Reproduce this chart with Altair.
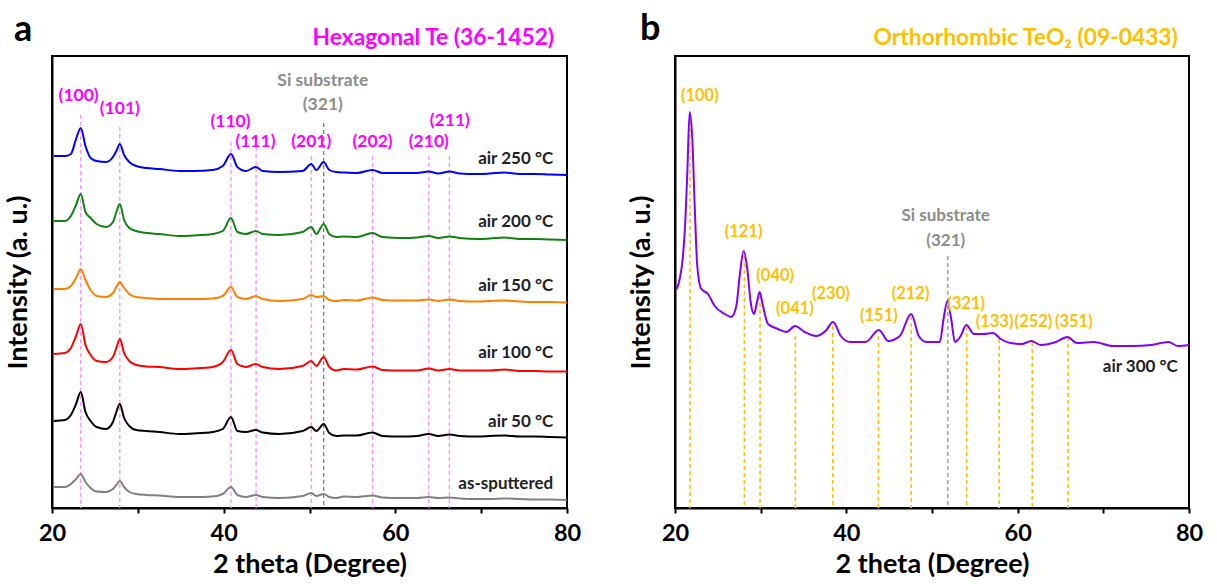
import altair as alt
import pandas as pd

FONT = "Lato"

# ---------------- Panel a : hexagonal Te, stacked patterns ----------------
two_theta_a = [20.2, 21.5, 22.2, 22.8, 23.35, 23.9, 24.5, 25.2, 26.3, 27.1, 27.5, 27.9,
               28.4, 29.0, 29.8, 31.0, 32.5, 34.8, 36.5, 38.7, 39.9, 40.85, 41.6, 42.6,
               43.75, 44.55, 46.5, 49.2, 50.2, 50.8, 51.65, 52.3, 53.1, 54.0, 55.5, 57.35,
               58.5, 60.7, 62.5, 63.9, 65.0, 66.3, 67.5, 69.6, 71.0, 72.7, 74.5, 76.3, 78.0, 80.0]

int_air250 = [352, 352, 354, 369, 380, 362, 350, 347, 346, 351, 357, 364,
              353, 346, 342, 340, 339, 337, 337, 338, 342, 354, 341, 337,
              341, 337, 336, 337, 344, 338, 346, 338, 336, 335.5, 335, 338,
              335, 335, 335, 336.5, 334.5, 336.5, 334.5, 334, 334.5, 335.5, 334, 334, 333.5, 333]
int_air200 = [287, 287, 292, 303, 314, 296, 290, 284, 281, 286, 296, 304,
              288, 280, 277, 275, 274, 272, 272.5, 274, 277, 290, 276, 274,
              277, 274, 273, 276, 281, 274, 284, 274, 271, 271.5, 271, 275,
              271, 270, 270.5, 272, 270, 271.5, 270, 269, 269.5, 270.5, 269, 269, 268.5, 268]
int_air150 = [219, 219, 222, 230, 239, 228, 218, 212, 211, 215, 221, 226,
              220, 214, 211, 210, 209, 209, 209, 209.5, 212, 221, 211, 209,
              212, 209, 207, 209, 213, 211, 212, 208, 207, 208, 207.5, 210.5,
              208, 207.5, 207.5, 208.5, 207, 208.5, 207, 206.5, 207, 207.5, 206.5, 206, 206, 205.5]
int_air100 = [154, 155, 160, 172, 184, 163, 153, 147, 146, 151, 160, 169,
              155, 147, 143, 141.5, 141, 139, 139.5, 141, 146, 158, 144, 141,
              144, 141, 139, 142, 147, 142, 151, 141, 137.5, 139, 138.5, 141.5,
              138, 137.5, 137.5, 139.5, 137.5, 139, 137.5, 137.5, 137.5, 138.5, 137, 137, 136.5, 136.5]
int_air50 = [87, 88, 93, 104, 116, 96, 87, 81, 79, 86, 96, 104,
             90, 82, 78, 77, 76, 74, 74.5, 76, 79, 91, 77, 76,
             78, 75.5, 74, 77, 81, 77, 84, 75, 72, 72.5, 72.5, 75.5,
             72, 71.5, 72, 74, 72, 73.5, 72, 71.5, 72, 72.5, 71.5, 71.5, 71, 70.5]
int_assput = [21, 21, 24, 29, 34, 26, 20, 16.5, 16, 19, 23, 27,
              21, 16, 14, 13, 12.5, 11, 11, 11.5, 14, 21, 13, 11,
              13, 11, 10, 12, 15, 12, 14, 11, 10, 11.5, 11, 12.5,
              10.5, 10, 10, 11, 10, 10.5, 9.5, 9, 9, 9.5, 9, 8.5, 8.5, 8]

series_a = ["as-sputtered", "air 50 °C", "air 100 °C", "air 150 °C", "air 200 °C", "air 250 °C"]
values_a = [int_assput, int_air50, int_air100, int_air150, int_air200, int_air250]
colors_a = ["#808080", "#000000", "#FF0000", "#FF8000", "#118211", "#0000FF"]
series_label_x = [78.4] * 6
series_label_y = [24, 86, 155, 222, 286, 349]

te_hkl = ["(100)", "(101)", "(110)", "(111)", "(201)", "(202)", "(210)", "(211)"]
te_pos = [23.35, 27.9, 40.85, 43.78, 50.2, 57.35, 63.9, 66.3]
te_line_top = [393, 381, 366, 361, 352, 352, 352, 352]
te_label_x = [23.1, 27.9, 40.8, 43.7, 50.2, 57.35, 63.9, 66.35]
te_label_y = [412, 399, 386, 366, 366, 366, 366, 387]

si_pos_a = 51.65
si_top_a = 385
si_label_x_a = 51.55
si_label_y_a = [427, 403]

# ---------------- Panel b : orthorhombic TeO2 ----------------
two_theta_b = [20.2, 20.55, 20.93, 21.2, 21.44, 21.71, 22.02, 22.3, 22.6, 23.07, 23.85, 24.63,
               25.8, 26.57, 27.16, 27.55, 28.02, 28.44, 28.83, 29.22, 29.57, 29.88, 30.27, 30.86,
               32.0, 33.0, 34.02, 35.13, 36.46, 37.57, 38.46, 39.35, 40.46, 42.24, 43.8, 44.9,
               46.24, 47.57, 48.46, 49.35, 50.91, 51.35, 51.8, 52.24, 52.68, 53.35, 54.0, 54.9,
               56.02, 57.13, 58.02, 59.13, 60.47, 61.58, 62.69, 64.47, 65.8, 66.91, 68.9, 71.1,
               73.4, 75.6, 77.6, 78.7, 80.0]
int_air300 = [219, 229, 252, 286, 336, 396, 369, 302, 242, 219, 214, 202,
              194, 191, 202, 232, 257, 239, 206, 194, 206, 216, 202, 184,
              179, 176, 182, 176, 172, 177, 186, 172, 166, 166, 178, 167,
              172, 194, 172, 166, 166, 189, 207, 189, 166, 172, 183, 174,
              174, 175, 169, 165, 164, 167, 163, 166, 171, 165, 166, 162,
              162, 163, 166, 162, 163]

teo2_hkl = ["(100)", "(121)", "(040)", "(041)", "(230)", "(151)", "(212)", "(321)", "(133)", "(252)", "(351)"]
teo2_pos = [21.75, 28.1, 29.93, 34.05, 38.42, 43.75, 47.57, 54.05, 57.84, 61.7, 65.88]
teo2_line_top = [394, 252, 212, 172, 182, 172, 192, 182, 169, 166, 171]
teo2_label_x = [22.9, 28.0, 31.7, 34.0, 38.2, 43.8, 47.5, 54.0, 57.3, 61.85, 66.55]
teo2_label_y = [412, 276, 232, 199, 214, 192, 214, 204, 186, 186, 186]

si_pos_b = 51.84
si_top_b = 252
si_label_x_b = 51.6
si_label_y_b = [292, 267]

# ---------------- helpers ----------------
x_axis = alt.Axis(values=[20, 30, 40, 50, 60, 70, 80],
                  labelExpr="datum.value % 20 == 0 ? datum.label : ''",
                  labelFlush=False, labelOverlap=False, grid=False,
                  tickSize=5, tickWidth=2, tickColor="black",
                  domainColor="black", domainWidth=2,
                  labelFont=FONT, labelFontSize=23.5, labelFontWeight="bold", labelColor="black",
                  labelPadding=8,
                  title="2 theta (Degree)", titleFont=FONT, titleFontSize=27,
                  titleFontWeight="bold", titleColor="black", titlePadding=7)
y_axis = alt.Axis(labels=False, ticks=False, grid=False, domainColor="black", domainWidth=2,
                  title="Intensity (a. u.)", titleFont=FONT, titleFontSize=27,
                  titleFontWeight="bold", titleColor="black", titlePadding=20)
xs = alt.Scale(domain=[20, 80], nice=False, zero=False)
ys = alt.Scale(domain=[0, 452], nice=False, zero=False)
X = alt.X("x:Q", scale=xs, axis=x_axis)
Y = alt.Y("y:Q", scale=ys, axis=y_axis)
frame = alt.ViewBackground(stroke="black", strokeWidth=2)


def text_layer(df, color, size, align="center"):
    return alt.Chart(df).mark_text(font=FONT, fontSize=size, fontWeight="bold", color=color,
                                   align=align, baseline="middle").encode(
        x=alt.X("x:Q", scale=xs), y=alt.Y("y:Q", scale=ys), text="t:N")


def rule_layer(df, color, width):
    return alt.Chart(df).mark_rule(color=color, strokeWidth=width, strokeDash=[4, 3]).encode(
        x=alt.X("x:Q", scale=xs), y=alt.Y("y:Q", scale=ys), y2="y0:Q")


# ---------------- panel a ----------------
rows = []
for name, vals in zip(series_a, values_a):
    for xv, yv in zip(two_theta_a, vals):
        rows.append({"x": xv, "y": yv, "s": name})
df_a = pd.DataFrame(rows)

lines_a = alt.Chart(df_a).mark_line(strokeWidth=2, interpolate="monotone").encode(
    x=X, y=Y,
    color=alt.Color("s:N", scale=alt.Scale(domain=series_a, range=colors_a), legend=None),
    detail="s:N")

rules_a = rule_layer(pd.DataFrame({"x": te_pos, "y": te_line_top, "y0": [0] * len(te_pos)}), "#FF88FF", 1.3)
rule_si_a = rule_layer(pd.DataFrame({"x": [si_pos_a], "y": [si_top_a], "y0": [0]}), "#808080", 1.3)
hkl_a = text_layer(pd.DataFrame({"x": te_label_x, "y": te_label_y, "t": te_hkl}), "#FF00FF", 17.5)
si_txt_a = text_layer(pd.DataFrame({"x": [si_label_x_a] * 2, "y": si_label_y_a,
                                    "t": ["Si substrate", "(321)"]}), "#8C8C8C", 17.5)
names_a = text_layer(pd.DataFrame({"x": series_label_x, "y": series_label_y, "t": series_a}),
                     "#222222", 17, align="right")
head_a = text_layer(pd.DataFrame({"x": [78.5], "y": [470], "t": ["Hexagonal Te (36-1452)"]}),
                    "#FF00FF", 22.8, align="right")
letter_a = text_layer(pd.DataFrame({"x": [16.65], "y": [478], "t": ["a"]}), "#000000", 36)

panel_a = alt.layer(rules_a, rule_si_a, lines_a, hkl_a, si_txt_a, names_a, head_a, letter_a).properties(
    width=515, height=452, view=frame)

# ---------------- panel b ----------------
df_b = pd.DataFrame({"x": two_theta_b, "y": int_air300})
line_b = alt.Chart(df_b).mark_line(strokeWidth=2, color="#8000FF", interpolate="monotone").encode(x=X, y=Y)
rules_b = rule_layer(pd.DataFrame({"x": teo2_pos, "y": teo2_line_top, "y0": [0] * len(teo2_pos)}), "#FFC000", 1.6)
rule_si_b = rule_layer(pd.DataFrame({"x": [si_pos_b], "y": [si_top_b], "y0": [0]}), "#A6A6A6", 1.6)
hkl_b = text_layer(pd.DataFrame({"x": teo2_label_x, "y": teo2_label_y, "t": teo2_hkl}), "#FFC000", 16.5)
si_txt_b = text_layer(pd.DataFrame({"x": [si_label_x_b] * 2, "y": si_label_y_b,
                                    "t": ["Si substrate", "(321)"]}), "#8C8C8C", 17)
name_b = text_layer(pd.DataFrame({"x": [78.7], "y": [141], "t": ["air 300 °C"]}), "#222222", 17, align="right")
head_b = text_layer(pd.DataFrame({"x": [78.7], "y": [470], "t": ["Orthorhombic TeO₂ (09-0433)"]}),
                    "#FFC000", 22.8, align="right")
letter_b = text_layer(pd.DataFrame({"x": [17.1], "y": [479], "t": ["b"]}), "#000000", 36)

panel_b = alt.layer(rules_b, rule_si_b, line_b, hkl_b, si_txt_b, name_b, head_b, letter_b).properties(
    width=514, height=452, view=frame)

chart = alt.hconcat(panel_a, panel_b, spacing=108, bounds="flush").properties(
    padding={"left": 3, "top": 9, "right": 5, "bottom": 5}, background="white"
).configure_view(stroke="black", strokeWidth=2)

chart.save("out.html", embed_options={"renderer": "svg", "actions": False})
